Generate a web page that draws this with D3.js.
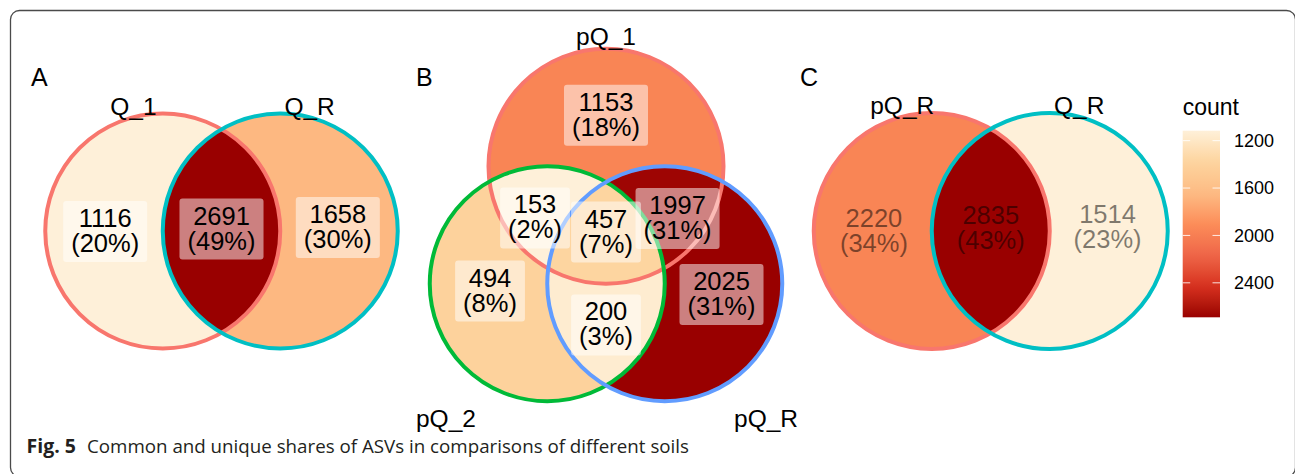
<!DOCTYPE html>
<html>
<head>
<meta charset="utf-8">
<script src="https://cdn.jsdelivr.net/npm/d3@7"></script>
<style>
  html, body { margin: 0; padding: 0; background: #ffffff; }
  svg { display: block; }
</style>
</head>
<body>
<svg id="fig" width="1295" height="474"></svg>
<script>
// ---------------- data ----------------
const setsA = ["Q_1", "Q_R"];
const regionsA = ["Q_1", "Q_1&Q_R", "Q_R"];
const countsA = [1116, 2691, 1658];
const percentA = ["20%", "49%", "30%"];

const setsB = ["pQ_1", "pQ_2", "pQ_R"];
const regionsB = ["pQ_1", "pQ_1&pQ_2", "pQ_1&pQ_2&pQ_R", "pQ_1&pQ_R", "pQ_2", "pQ_2&pQ_R", "pQ_R"];
const countsB = [1153, 153, 457, 1997, 494, 200, 2025];
const percentB = ["18%", "2%", "7%", "31%", "8%", "3%", "31%"];

const setsC = ["pQ_R", "Q_R"];
const regionsC = ["pQ_R", "pQ_R&Q_R", "Q_R"];
const countsC = [2220, 2835, 1514];
const percentC = ["34%", "43%", "23%"];

const legendTitle = "count";
const legendTicks = [1200, 1600, 2000, 2400];
const captionBold = "Fig. 5";
const captionText = "Common and unique shares of ASVs in comparisons of different soils";

// ---------------- layout (Venn unit coordinates, radius = 1) ----------------
const twoSetCentres = [[-0.5, 0], [0.5, 0]];
const twoSetLabelPos = [[-0.99, 0.004], [0, -0.017], [0.99, -0.03]];
const twoSetNamePos = [[-0.75, -0.99], [0.75, -0.99]];

const threeSetCentres = [[0, -0.5], [-0.5, 0.5], [0.5, 0.5]];
const threeSetLabelPos = [[0, -0.935], [-0.604, -0.06], [0, 0.06], [0.609, -0.055],
                          [-0.987, 0.562], [0, 0.851], [0.983, 0.591]];
const threeSetNamePos = [[0, -1.528], [-1.362, 1.717], [1.362, 1.717]];

const hue2 = ["#F8766D", "#00BFC4"];
const hue3 = ["#F8766D", "#00BA38", "#619CFF"];
const orRd7 = ["#FEF0D9", "#FDD49E", "#FDBB84", "#FC8D59", "#EF6548", "#D7301F", "#990000"];

const panels = [
  { key: "A", letterX: 31, sets: setsA, regions: regionsA, counts: countsA, pct: percentA,
    origin: [221.5, 231], r: 117.5, centres: twoSetCentres, labelPos: twoSetLabelPos,
    namePos: twoSetNamePos, strokes: hue2, boxes: true },
  { key: "B", letterX: 416, sets: setsB, regions: regionsB, counts: countsB, pct: percentB,
    origin: [606, 225], r: 117.5, centres: threeSetCentres, labelPos: threeSetLabelPos,
    namePos: threeSetNamePos, strokes: hue3, boxes: true },
  { key: "C", letterX: 800, sets: setsC, regions: regionsC, counts: countsC, pct: percentC,
    origin: [990.75, 231], r: 118, centres: twoSetCentres, labelPos: twoSetLabelPos,
    namePos: twoSetNamePos, strokes: hue2, boxes: false }
];

const W = 1295, H = 474;
const FONT = "'Liberation Sans', Arial, Helvetica, sans-serif";
const svg = d3.select("#fig");
const defs = svg.append("defs");

function fillScale(counts) {
  const [lo, hi] = d3.extent(counts);
  return d3.scaleLinear()
    .domain(d3.range(orRd7.length).map(i => lo + i * (hi - lo) / (orRd7.length - 1)))
    .range(orRd7)
    .interpolate(d3.interpolateLab);
}

panels.forEach((p, pi) => {
  const x = d3.scaleLinear().domain([-1, 1]).range([p.origin[0] - p.r, p.origin[0] + p.r]);
  const y = d3.scaleLinear().domain([-1, 1]).range([p.origin[1] - p.r, p.origin[1] + p.r]);
  const rad = x(1) - x(0);
  const colour = fillScale(p.counts);
  const g = svg.append("g").attr("class", "panel-" + p.key);

  // one clip path per set circle
  p.sets.forEach((s, i) => {
    defs.append("clipPath").attr("id", `clip-${pi}-${i}`)
      .append("circle")
      .attr("cx", x(p.centres[i][0])).attr("cy", y(p.centres[i][1])).attr("r", rad);
  });

  // region fills: inside every included set, outside every other set
  p.regions.forEach((reg, k) => {
    const members = reg.split("&");
    const inIdx = p.sets.map((s, i) => i).filter(i => members.includes(p.sets[i]));
    const outIdx = p.sets.map((s, i) => i).filter(i => !members.includes(p.sets[i]));

    const mask = defs.append("mask").attr("id", `mask-${pi}-${k}`)
      .attr("maskUnits", "userSpaceOnUse")
      .attr("x", 0).attr("y", 0).attr("width", W).attr("height", H);
    mask.append("rect").attr("width", W).attr("height", H).attr("fill", "#fff");
    outIdx.forEach(i => {
      mask.append("circle")
        .attr("cx", x(p.centres[i][0])).attr("cy", y(p.centres[i][1])).attr("r", rad)
        .attr("fill", "#000");
    });

    let holder = g;
    inIdx.forEach(i => { holder = holder.append("g").attr("clip-path", `url(#clip-${pi}-${i})`); });
    holder.append("rect")
      .attr("x", 0).attr("y", 0).attr("width", W).attr("height", H)
      .attr("fill", colour(p.counts[k]))
      .attr("mask", `url(#mask-${pi}-${k})`);
  });

  // set outlines
  g.selectAll("circle.edge").data(p.sets).join("circle")
    .attr("class", "edge")
    .attr("cx", (d, i) => x(p.centres[i][0]))
    .attr("cy", (d, i) => y(p.centres[i][1]))
    .attr("r", rad)
    .attr("fill", "none")
    .attr("stroke", (d, i) => p.strokes[i])
    .attr("stroke-width", 4);

  // count / percentage labels
  p.regions.forEach((reg, k) => {
    const cx = x(p.labelPos[k][0]);
    const cy = y(p.labelPos[k][1]);
    const lg = g.append("g");
    const box = lg.append("rect");
    const t = lg.append("text")
      .attr("text-anchor", "middle")
      .attr("font-family", FONT)
      .attr("font-size", 25.5)
      .attr("fill", "#000")
      .attr("fill-opacity", p.boxes ? 1 : 0.5);
    const l1 = t.append("tspan").attr("x", cx).attr("y", cy - 4.5).text(p.counts[k]);
    const l2 = t.append("tspan").attr("x", cx).attr("y", cy + 20.5).text(`(${p.pct[k]})`);
    if (p.boxes) {
      const w = Math.max(l1.node().getComputedTextLength(), l2.node().getComputedTextLength()) + 16;
      box.attr("x", cx - w / 2).attr("y", cy - 30.5)
        .attr("width", w).attr("height", 61)
        .attr("rx", 3)
        .attr("fill", "#fff").attr("fill-opacity", 0.5);
    } else {
      box.remove();
    }
  });

  // set names
  g.selectAll("text.setname").data(p.sets).join("text")
    .attr("class", "setname")
    .attr("x", (d, i) => x(p.namePos[i][0]))
    .attr("y", (d, i) => y(p.namePos[i][1]))
    .attr("text-anchor", "middle")
    .attr("font-family", FONT)
    .attr("font-size", 24.5)
    .attr("fill", "#000")
    .text(d => d);

  // panel letter
  svg.append("text")
    .attr("x", p.letterX).attr("y", 86)
    .attr("font-family", FONT).attr("font-size", 25)
    .attr("fill", "#000")
    .text(p.key);
});

// ---------------- colour bar (scale of panel A) ----------------
const legendColour = fillScale(countsA);
const [legLo, legHi] = d3.extent(countsA);
const legY = d3.scaleLinear().domain([legLo, legHi]).range([130.7, 317.3]);
const legX0 = 1182.7, legW = 37.3;

const grad = defs.append("linearGradient").attr("id", "legend-grad")
  .attr("x1", 0).attr("y1", 0).attr("x2", 0).attr("y2", 1);
d3.range(0, 1.0001, 0.05).forEach(f => {
  grad.append("stop")
    .attr("offset", f)
    .attr("stop-color", legendColour(legLo + f * (legHi - legLo)));
});

const leg = svg.append("g").attr("class", "legend");
leg.append("text")
  .attr("x", legX0).attr("y", 115)
  .attr("font-family", FONT).attr("font-size", 23)
  .attr("fill", "#000")
  .text(legendTitle);
leg.append("rect")
  .attr("x", legX0).attr("y", legY(legLo))
  .attr("width", legW).attr("height", legY(legHi) - legY(legLo))
  .attr("fill", "url(#legend-grad)");
legendTicks.forEach(v => {
  [[legX0, legX0 + 7.5], [legX0 + legW - 7.5, legX0 + legW]].forEach(([a, b]) => {
    leg.append("line")
      .attr("x1", a).attr("x2", b)
      .attr("y1", legY(v)).attr("y2", legY(v))
      .attr("stroke", "#fff").attr("stroke-opacity", 0.85).attr("stroke-width", 1);
  });
});
leg.selectAll("text.tick").data(legendTicks).join("text")
  .attr("class", "tick")
  .attr("x", 1234).attr("y", d => legY(d) + 6.3)
  .attr("font-family", FONT).attr("font-size", 18)
  .attr("fill", "#000")
  .text(d => d);

// ---------------- frame and caption ----------------
svg.append("rect")
  .attr("x", 10.5).attr("y", 10.5)
  .attr("width", 1285).attr("height", 466)
  .attr("rx", 9).attr("ry", 9)
  .attr("fill", "none").attr("stroke", "#4a4a4a").attr("stroke-width", 1.3);

svg.append("text")
  .attr("x", 26.5).attr("y", 452.5)
  .attr("font-family", "'Open Sans', 'Noto Sans', sans-serif")
  .attr("font-weight", "bold").attr("font-size", 19.5)
  .attr("fill", "#231f20")
  .text(captionBold);

svg.append("text")
  .attr("x", 87).attr("y", 452.5)
  .attr("font-family", "'Open Sans', 'Noto Sans', sans-serif")
  .attr("font-size", 18.5)
  .attr("fill", "#231f20")
  .attr("textLength", 602).attr("lengthAdjust", "spacingAndGlyphs")
  .text(captionText);
</script>
</body>
</html>
